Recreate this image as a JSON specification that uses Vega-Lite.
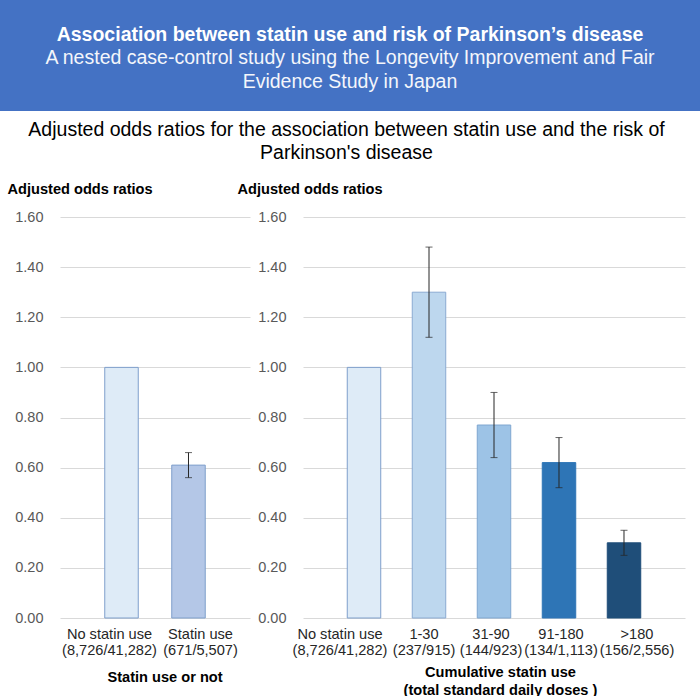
{
  "$schema": "https://vega.github.io/schema/vega-lite/v6.json",
  "padding": 0,
  "background": "white",
  "spacing": 8,
  "config": {
    "font": "Liberation Sans",
    "view": {"stroke": null},
    "axis": {"labelFont": "Liberation Sans", "titleFont": "Liberation Sans"}
  },
  "vconcat": [
    {
      "width": 700,
      "height": 111,
      "view": {"fill": "#4472C4", "stroke": null},
      "data": {"values": [
        {"line": 1, "text": "Association between statin use and risk of Parkinson’s disease"},
        {"line": 2, "text": "A nested case-control study using the Longevity Improvement and Fair"},
        {"line": 3, "text": "Evidence Study in Japan"}
      ]},
      "encoding": {
        "y": {"field": "line", "type": "quantitative", "axis": null, "scale": {"domain": [-0.48, 4.24], "reverse": true, "nice": false, "zero": false}},
        "text": {"field": "text"}
      },
      "layer": [
        {"transform": [{"filter": "datum.line == 1"}],
         "mark": {"type": "text", "fontSize": 19.5, "fontWeight": "bold", "color": "white", "baseline": "middle"}},
        {"transform": [{"filter": "datum.line != 1"}],
         "mark": {"type": "text", "fontSize": 19.5, "fontWeight": "normal", "color": "#F4F6FB", "baseline": "middle"}}
      ]
    },
    {
      "title": {
        "text": ["Adjusted odds ratios for the association between statin use and the risk of", "Parkinson's disease"],
        "fontSize": 19.5, "fontWeight": "normal", "lineHeight": 23, "anchor": "middle", "color": "black", "offset": 18, "dx": 4
      },
      "spacing": -13,
      "resolve": {"scale": {"color": "independent", "stroke": "independent"}},
      "hconcat": [
        {
          "width": 20,
          "height": 1,
          "data": {"values": []},
          "mark": "point"
        },
        {
          "width": 190,
          "height": 401,
          "data": {"values": [
            {"cat": "No statin use|(8,726/41,282)", "or": 1.0, "lo": null, "hi": null},
            {"cat": "Statin use|(671/5,507)", "or": 0.61, "lo": 0.56, "hi": 0.66}
          ]},
          "encoding": {
            "x": {"field": "cat", "type": "nominal", "sort": null,
              "scale": {"paddingInner": 0.5, "paddingOuter": 0.668},
              "axis": {
                "title": "Statin use or not",
                "labelExpr": "split(datum.label, '|')",
                "labelAngle": 0, "labelFontSize": 14.6, "labelColor": "#262626", "labelLineHeight": 16,
                "labelBaseline": "alphabetic", "labelPadding": 20, "labelOverlap": false, "labelBound": false,
                "labelFlush": false, "labelLimit": 0, "domain": false, "ticks": false, "tickSize": 0,
                "labelOffset": {"condition": [{"test": "datum.value === 'No statin use|(8,726/41,282)'", "value": -12}], "value": 12},
                "titleFontSize": 14.6, "titleFontWeight": "bold", "titleColor": "black", "titleBaseline": "alphabetic",
                "titleAlign": "center", "titleX": 104.5, "titleY": 63
              }
            }
          },
          "layer": [
            {
              "mark": {"type": "bar", "strokeWidth": 1},
              "encoding": {
                "y": {"field": "or", "type": "quantitative", "scale": {"domain": [0, 1.6], "nice": false},
                  "axis": {
                    "values": [0, 0.2, 0.4, 0.6, 0.8, 1, 1.2, 1.4, 1.6], "format": ".2f",
                    "labelFontSize": 14.5, "labelColor": "#595959", "labelPadding": 17,
                    "domain": false, "ticks": false, "tickSize": 0, "gridColor": "#D9D9D9",
                    "title": "Adjusted odds ratios", "titleAngle": 0, "titleAlign": "left", "titleBaseline": "alphabetic",
                    "titleX": -53, "titleY": -24, "titleFontSize": 14.6, "titleFontWeight": "bold", "titleColor": "black"
                  }
                },
                "color": {"field": "cat", "type": "nominal", "legend": null,
                  "scale": {"domain": ["No statin use|(8,726/41,282)", "Statin use|(671/5,507)"], "range": ["#DEEBF7", "#B4C7E7"]}},
                "stroke": {"field": "cat", "type": "nominal", "legend": null,
                  "scale": {"domain": ["No statin use|(8,726/41,282)", "Statin use|(671/5,507)"], "range": ["#7F9FCB", "#7F9FCB"]}}
              }
            },
            {
              "transform": [{"filter": "datum.lo != null"}],
              "mark": {"type": "rule", "color": "#262626", "strokeWidth": 1},
              "encoding": {
                "y": {"field": "lo", "type": "quantitative", "title": "Adjusted odds ratios"},
                "y2": {"field": "hi"}
              }
            },
            {
              "transform": [{"filter": "datum.lo != null"}],
              "mark": {"type": "tick", "size": 7, "thickness": 1, "color": "#262626"},
              "encoding": {"y": {"field": "lo", "type": "quantitative", "title": "Adjusted odds ratios"}}
            },
            {
              "transform": [{"filter": "datum.lo != null"}],
              "mark": {"type": "tick", "size": 7, "thickness": 1, "color": "#262626"},
              "encoding": {"y": {"field": "hi", "type": "quantitative", "title": "Adjusted odds ratios"}}
            }
          ]
        },
        {
          "width": 382,
          "height": 401,
          "data": {"values": [
            {"cat": "No statin use|(8,726/41,282)", "or": 1.0, "lo": null, "hi": null},
            {"cat": "1-30|(237/915)", "or": 1.30, "lo": 1.12, "hi": 1.48},
            {"cat": "31-90|(144/923)", "or": 0.77, "lo": 0.64, "hi": 0.90},
            {"cat": "91-180|(134/1,113)", "or": 0.62, "lo": 0.52, "hi": 0.72},
            {"cat": ">180|(156/2,556)", "or": 0.30, "lo": 0.25, "hi": 0.35}
          ]},
          "encoding": {
            "x": {"field": "cat", "type": "nominal", "sort": null,
              "scale": {"paddingInner": 0.485, "paddingOuter": 0.681},
              "axis": {
                "title": ["Cumulative statin use", "(total standard daily doses )"],
                "labelExpr": "split(datum.label, '|')",
                "labelAngle": 0, "labelFontSize": 14.6, "labelColor": "#262626", "labelLineHeight": 16,
                "labelBaseline": "alphabetic", "labelPadding": 20, "labelOverlap": false, "labelBound": false,
                "labelFlush": false, "labelLimit": 0, "domain": false, "ticks": false, "tickSize": 0,
                "labelOffset": {"condition": [
                  {"test": "datum.value === 'No statin use|(8,726/41,282)'", "value": -24},
                  {"test": "datum.value === '1-30|(237/915)'", "value": -5},
                  {"test": "datum.value === '31-90|(144/923)'", "value": -3},
                  {"test": "datum.value === '91-180|(134/1,113)'", "value": 2}
                ], "value": 13},
                "titleFontSize": 14.6, "titleFontWeight": "bold", "titleColor": "black", "titleBaseline": "alphabetic",
                "titleLineHeight": 18, "titleAlign": "center", "titleX": 197, "titleY": 58
              }
            }
          },
          "layer": [
            {
              "mark": {"type": "bar", "strokeWidth": 1},
              "encoding": {
                "y": {"field": "or", "type": "quantitative", "scale": {"domain": [0, 1.6], "nice": false},
                  "axis": {
                    "values": [0, 0.2, 0.4, 0.6, 0.8, 1, 1.2, 1.4, 1.6], "format": ".2f",
                    "labelFontSize": 14.5, "labelColor": "#595959", "labelPadding": 17,
                    "domain": false, "ticks": false, "tickSize": 0, "gridColor": "#D9D9D9",
                    "title": "Adjusted odds ratios", "titleAngle": 0, "titleAlign": "left", "titleBaseline": "alphabetic",
                    "titleX": -66, "titleY": -24, "titleFontSize": 14.6, "titleFontWeight": "bold", "titleColor": "black"
                  }
                },
                "color": {"field": "cat", "type": "nominal", "legend": null,
                  "scale": {"domain": ["No statin use|(8,726/41,282)", "1-30|(237/915)", "31-90|(144/923)", "91-180|(134/1,113)", ">180|(156/2,556)"],
                            "range": ["#DEEBF7", "#BDD7EE", "#9DC3E6", "#2E75B6", "#1F4E79"]}},
                "stroke": {"field": "cat", "type": "nominal", "legend": null,
                  "scale": {"domain": ["No statin use|(8,726/41,282)", "1-30|(237/915)", "31-90|(144/923)", "91-180|(134/1,113)", ">180|(156/2,556)"],
                            "range": ["#7F9FCB", "#8AAAD2", "#7FA6D0", "#2E75B6", "#1F4E79"]}}
              }
            },
            {
              "transform": [{"filter": "datum.lo != null"}],
              "mark": {"type": "rule", "color": "#262626", "strokeWidth": 1},
              "encoding": {
                "y": {"field": "lo", "type": "quantitative", "title": "Adjusted odds ratios"},
                "y2": {"field": "hi"}
              }
            },
            {
              "transform": [{"filter": "datum.lo != null"}],
              "mark": {"type": "tick", "size": 7, "thickness": 1, "color": "#262626"},
              "encoding": {"y": {"field": "lo", "type": "quantitative", "title": "Adjusted odds ratios"}}
            },
            {
              "transform": [{"filter": "datum.lo != null"}],
              "mark": {"type": "tick", "size": 7, "thickness": 1, "color": "#262626"},
              "encoding": {"y": {"field": "hi", "type": "quantitative", "title": "Adjusted odds ratios"}}
            }
          ]
        }
      ]
    }
  ]
}
